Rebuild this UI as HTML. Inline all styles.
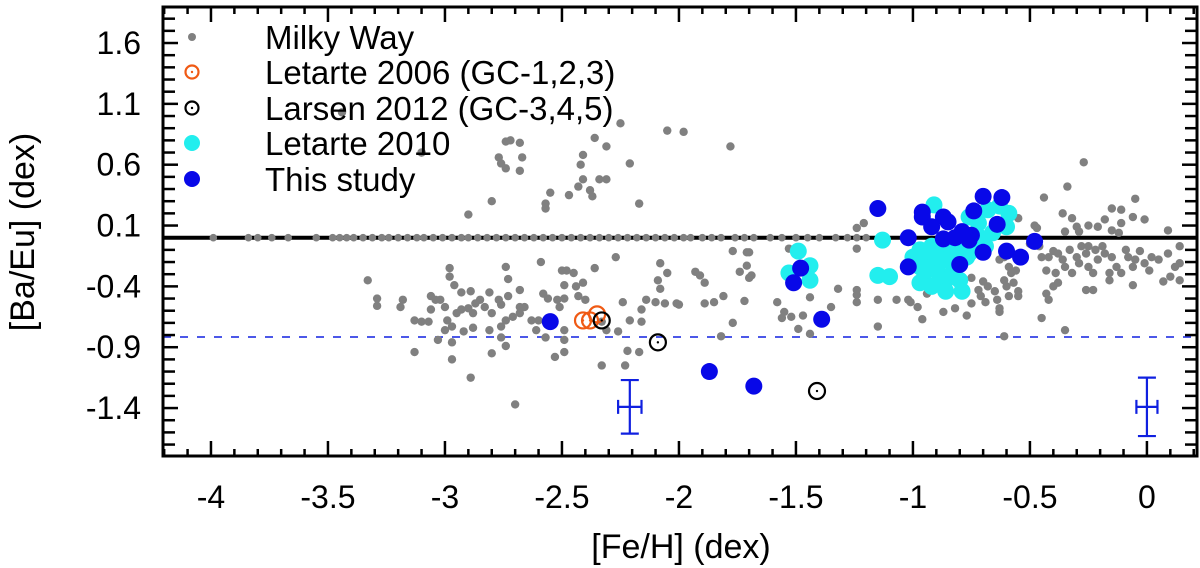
<!DOCTYPE html>
<html><head><meta charset="utf-8"><style>
body{margin:0;background:#fff}
svg{display:block;font-family:"Liberation Sans",Arial,sans-serif}
</style></head><body>
<svg id="chart" width="1200" height="568" viewBox="0 0 1200 568"></svg>
<script>
// ---- data ----
const xTicks=[-4,-3.5,-3,-2.5,-2,-1.5,-1,-0.5,0];
const xTickLabels=["-4","-3.5","-3","-2.5","-2","-1.5","-1","-0.5","0"];
const yTicks=[1.6,1.1,0.6,0.1,-0.4,-0.9,-1.4];
const yTickLabels=["1.6","1.1","0.6","0.1","-0.4","-0.9","-1.4"];
const solarLine=0.0;
const dashedLine=-0.816;
// Milky Way: [Fe/H], [Ba/Eu]
const mwFe=[-3.44,-3.10,-2.74,-2.72,-2.68,-2.77,-2.76,-2.74,-2.67,-2.68,-2.36,-2.31,-2.41,-2.42,-2.41,-2.34,-2.31,-2.43,-2.47,-2.38,-2.37,-2.55,-2.57,-2.57,-2.80,-2.90,-2.21,-2.17,-2.25,-2.05,-3.10,
-3.33,-3.29,-3.29,-3.18,-3.19,-3.13,-3.10,-3.07,-3.13,-3.03,-3.06,-3.04,-3.02,-3.00,-3.06,-2.98,-2.98,-2.96,-2.93,-2.89,-2.85,-2.87,-2.90,-2.95,-2.93,-2.88,-2.83,-2.81,-2.77,-2.76,-2.80,-2.99,-2.97,-3.00,-2.92,-2.88,-2.81,-2.76,-2.74,-2.71,-2.68,-2.66,-2.63,-2.97,-2.97,-2.89,-2.80,-2.74,-2.76,-2.70,-2.74,-2.73,-2.68,-2.73,-2.68,-2.59,-2.58,-2.56,-2.52,-2.49,-2.51,-2.60,-2.61,-2.57,-2.49,-2.49,-2.49,-2.53,-2.50,-2.48,-2.45,-2.49,-2.44,-2.41,-2.43,-2.40,-2.36,-2.33,-2.31,-2.26,-2.27,-2.24,-2.21,-2.22,-2.17,-2.16,-2.16,-2.14,-2.10,-2.09,-2.08,-2.08,-2.05,-2.06,-2.01,-2.33,-2.23,
-1.98,-1.78,-0.27,-0.34,-0.44,-0.05,-1.24,-1.21,-0.55,-0.48,-0.47,-0.36,-0.32,-0.30,-0.25,-0.21,-0.18,-0.15,-0.11,-0.11,-0.06,-0.01,0.09,-0.15,-0.12,-0.29,-0.35,
-2.0,-1.93,-1.91,-1.89,-1.89,-1.85,-1.81,-1.82,-1.77,-1.71,-1.70,-1.71,-1.74,-1.69,-1.70,-1.72,-1.77,-1.58,-1.55,-1.56,-1.52,-1.47,-1.44,-1.35,-1.32,-1.49,-1.44,-1.53,-1.24,-1.24,-1.24,-1.24,-1.15,-1.07,-1.02,-1.01,-0.98,-0.96,-0.94,-0.87,-0.82,-0.77,-1.15,
-0.75,-0.72,-0.71,-0.70,-0.69,-0.68,-0.65,-0.64,-0.63,-0.61,-0.60,-0.59,-0.58,-0.57,-0.55,-0.55,-0.63,-0.61,-0.59,-0.56,-0.75,-0.63,-0.61,
-0.50,-0.46,-0.45,-0.43,-0.42,-0.40,-0.39,-0.38,-0.36,-0.35,-0.33,-0.32,-0.30,-0.29,-0.28,-0.26,-0.25,-0.23,-0.22,-0.21,-0.19,-0.18,-0.16,-0.15,-0.13,-0.11,-0.09,-0.08,-0.06,-0.05,-0.03,-0.01,0.01,0.02,0.05,0.07,0.09,0.10,0.12,0.14,0.14,0.14,-0.43,-0.40,-0.38,-0.42,-0.26,-0.23,-0.16,-0.06,-0.45,-0.35,-0.25];
const mwBa=[1.03,0.70,0.79,0.80,0.78,0.66,0.61,0.57,0.66,0.55,0.82,0.75,0.68,0.60,0.48,0.48,0.48,0.42,0.35,0.39,0.34,0.37,0.28,0.24,0.30,0.19,0.61,0.28,0.94,0.88,0.70,
-0.35,-0.50,-0.56,-0.51,-0.57,-0.68,-0.69,-0.69,-0.94,-0.84,-0.48,-0.51,-0.51,-0.57,-0.59,-0.25,-0.32,-0.39,-0.45,-0.44,-0.51,-0.54,-0.58,-0.62,-0.59,-0.62,-0.57,-0.45,-0.51,-0.55,-0.62,-0.68,-0.73,-0.76,-0.77,-0.74,-0.76,-0.73,-0.68,-0.65,-0.62,-0.57,-0.68,-0.86,-1.00,-1.15,-0.95,-0.89,-0.82,-1.37,-0.24,-0.34,-0.43,-0.48,-0.57,-0.20,-0.46,-0.50,-0.51,-0.50,-0.57,-0.68,-0.76,-0.82,-0.76,-0.84,-0.94,-0.98,-0.27,-0.27,-0.29,-0.39,-0.40,-0.37,-0.48,-0.51,-0.25,-0.69,-0.76,-0.77,-0.16,-0.53,-0.68,-0.93,-0.94,-0.69,-0.59,-0.51,-0.53,-0.35,-0.21,-0.42,-0.29,-0.54,-0.54,-1.05,-1.05,
0.87,0.75,0.62,0.42,0.33,0.32,0.08,0.12,0.16,0.10,0.08,0.20,0.16,0.09,0.10,0.09,0.15,0.24,0.23,0.12,0.17,0.15,0.06,0.06,0.04,0.05,0.05,
-0.55,-0.28,-0.31,-0.37,-0.54,-0.53,-0.48,-0.81,-0.11,-0.12,-0.12,-0.23,-0.28,-0.31,-0.33,-0.52,-0.70,-0.53,-0.61,-0.66,-0.65,-0.64,-0.49,-0.57,-0.42,-0.75,-0.79,-0.09,-0.09,-0.43,-0.47,-0.53,-0.51,-0.51,-0.51,-0.53,-0.57,-0.67,-0.46,-0.61,-0.58,-0.64,-0.73,
-0.33,-0.43,-0.48,-0.36,-0.53,-0.40,-0.44,-0.51,-0.58,-0.35,-0.40,-0.48,-0.29,-0.37,-0.44,-0.48,-0.18,-0.16,-0.24,-0.27,-0.54,-0.61,-0.81,
-0.05,-0.07,-0.16,-0.27,-0.16,-0.11,-0.29,-0.13,-0.18,-0.24,-0.10,-0.29,-0.16,-0.21,-0.07,-0.13,-0.24,-0.29,-0.10,-0.18,-0.07,-0.13,-0.35,-0.16,-0.24,-0.29,-0.10,-0.16,-0.24,-0.18,-0.11,-0.21,-0.27,-0.16,-0.18,-0.36,-0.13,-0.32,-0.24,-0.21,-0.35,-0.07,-0.46,-0.40,-0.37,-0.51,-0.43,-0.43,-0.29,-0.39,-0.66,-0.76,-0.07];
// Milky Way stars at solar [Ba/Eu] (on the line)
const mwSolarFe=[-3.99,-3.84,-3.80,-3.74,-3.67,-3.55,-3.48,-3.45,-3.42,-3.39,-3.35,-3.31,-3.27,-3.24,-3.20,-3.16,-3.12,-3.09,-3.05,-3.01,-2.97,-2.93,-2.90,-2.86,-2.82,-2.78,-2.74,-2.70,-2.66,-2.62,-2.58,-2.54,-2.50,-2.46,-2.42,-2.38,-2.34,-2.30,-2.26,-2.22,-2.18,-2.14,-2.10,-2.06,-2.02,-1.98,-1.95,-1.90,-1.86,-1.82,-1.76,-1.72,-1.68,-1.61,-1.56,-1.50,-1.45,-1.40,-1.33,-1.28,-1.24,-1.20];
// Letarte 2006 (orange open)
const l06Fe=[-2.41,-2.38,-2.35];
const l06Ba=[-0.68,-0.68,-0.63];
// Larsen 2012 (black open)
const l12Fe=[-2.33,-2.09,-1.41];
const l12Ba=[-0.68,-0.86,-1.26];
// Letarte 2010 (cyan)
const l10Fe=[-1.49,-1.44,-1.53,-1.44,-1.13,-1.15,-1.10,-0.91,-0.97,-0.95,-0.92,-0.89,-0.86,-0.83,-0.80,-0.77,-0.75,-0.72,-0.97,-0.95,-0.92,-0.89,-0.86,-0.83,-0.80,-0.97,-0.92,-0.86,-0.79,-0.76,-0.72,-0.68,-0.63,-0.59,-0.66,-0.69,-0.76,-0.60,-1.0];
const l10Ba=[-0.11,-0.23,-0.29,-0.35,-0.02,-0.31,-0.32,0.27,-0.10,-0.16,-0.07,-0.13,-0.18,-0.10,-0.07,-0.16,-0.05,0.01,-0.24,-0.29,-0.24,-0.29,-0.35,-0.29,-0.35,-0.37,-0.40,-0.44,-0.44,0.17,0.12,0.23,0.26,0.20,0.04,-0.07,-0.13,0.09,-0.16];
// This study (blue)
const tsFe=[-2.55,-1.15,-0.96,-0.96,-0.87,-0.92,-0.85,-0.79,-0.75,-0.87,-0.82,-0.76,-1.02,-1.02,-0.80,-0.70,-0.62,-0.74,-0.64,-0.70,-0.60,-0.54,-0.48,-1.48,-1.51,-1.39,-1.87,-1.68];
const tsBa=[-0.69,0.24,0.21,0.17,0.17,0.09,0.13,0.05,0.02,-0.01,0.0,-0.02,0.0,-0.24,-0.22,0.34,0.33,0.22,0.11,-0.12,-0.11,-0.16,-0.03,-0.25,-0.37,-0.67,-1.10,-1.22];
// Representative error bars
const errFe=[-2.21,0.0];
const errBa=[-1.39,-1.39];
const errX=[0.05,0.045];
const errY=[0.22,0.24];

// ---- axes ----
const X0=163,X1=1197,Y0=7,Y1=456;
const xMin=-4.205,xMax=0.214,yMin=-1.794,yMax=1.896;
const sx=v=>X0+(v-xMin)/(xMax-xMin)*(X1-X0);
const sy=v=>Y1-(v-yMin)/(yMax-yMin)*(Y1-Y0);
const svg=document.getElementById('chart');
const NS='http://www.w3.org/2000/svg';
function mk(tag,attrs,parent){const e=document.createElementNS(NS,tag);for(const k in attrs)e.setAttribute(k,attrs[k]);(parent||svg).appendChild(e);return e;}

// reference lines
let g=mk('g',{});


let ln=mk('line',{x1:X0,x2:X1,y1:sy(solarLine),y2:sy(solarLine),stroke:'#000','stroke-width':4},g);


ln=mk('line',{x1:X0,x2:X1,y1:sy(dashedLine),y2:sy(dashedLine),stroke:'#1020e0','stroke-width':1.6,'stroke-dasharray':'8,9'},g);



// Milky Way
g=mk('g',{fill:'#808080'});


mwFe.forEach((f,i)=>{const c=mk('circle',{cx:sx(f),cy:sy(mwBa[i]),r:4.2},g);

});
mwSolarFe.forEach(f=>{const c=mk('circle',{cx:sx(f),cy:sy(solarLine),r:3.8},g);

});

// Letarte 2010
g=mk('g',{fill:'#22eeee'});


l10Fe.forEach((f,i)=>{const c=mk('circle',{cx:sx(f),cy:sy(l10Ba[i]),r:8.5},g);

});
// This study
g=mk('g',{fill:'#0808e8'});


tsFe.forEach((f,i)=>{const c=mk('circle',{cx:sx(f),cy:sy(tsBa[i]),r:8.5},g);

});
// open circles
function openPts(fe,ba,col,name){const gg=mk('g',{});


fe.forEach((f,i)=>{mk('circle',{cx:sx(f),cy:sy(ba[i]),r:8,fill:'none',stroke:col,'stroke-width':2.2},gg);
mk('circle',{cx:sx(f),cy:sy(ba[i]),r:1.2,fill:col},gg);});}
openPts(l06Fe,l06Ba,'#f05a14','letarte-2006');
openPts(l12Fe,l12Ba,'#000','larsen-2012');

// error bars
g=mk('g',{stroke:'#1020e0','stroke-width':2.2,fill:'none'});


errFe.forEach((f,i)=>{const x=sx(f),y=sy(errBa[i]);const yt=sy(errBa[i]+errY[i]),yb=sy(errBa[i]-errY[i]);const xl=sx(f-errX[i]),xr=sx(f+errX[i]);
mk('path',{d:`M${x},${yt}V${yb}M${x-9},${yt}H${x+9}M${x-9},${yb}H${x+9}M${xl},${y}H${xr}M${xl},${y-7}V${y+7}M${xr},${y-7}V${y+7}`},g);});

// frame and ticks
g=mk('g',{stroke:'#000','stroke-width':2.5});


mk('rect',{x:X0,y:Y0,width:X1-X0,height:Y1-Y0,fill:'none','stroke-width':3},g);
for(let k=-42;k<=2;k++){const v=k/10;const major=k%5===0;const x=sx(v);const L=major?15:7;
mk('line',{x1:x,x2:x,y1:Y1,y2:Y1-L},g);mk('line',{x1:x,x2:x,y1:Y0,y2:Y0+L},g);}
for(let k=-17;k<=18;k++){const v=k/10;const major=((k-1)%5+5)%5===0;const y=sy(v);const L=major?15:12;
mk('line',{x1:X0,x2:X0+L,y1:y,y2:y},g);mk('line',{x1:X1,x2:X1-L,y1:y,y2:y},g);}
xTicks.forEach((v,i)=>{const t=mk('text',{x:sx(v),y:508,'text-anchor':'middle','font-size':32},svg);t.textContent=xTickLabels[i];

});
yTicks.forEach((v,i)=>{const t=mk('text',{x:141,y:sy(v)+11,'text-anchor':'end','font-size':32},svg);t.textContent=yTickLabels[i];

});
let t=mk('text',{x:681,y:558,'text-anchor':'middle','font-size':34});t.textContent='[Fe/H] (dex)';


t=mk('text',{x:0,y:0,'text-anchor':'middle','font-size':34,transform:'translate(34,232) rotate(-90)'});t.textContent='[Ba/Eu] (dex)';



// legend
const legLabels=['Milky Way','Letarte 2006 (GC-1,2,3)','Larsen 2012 (GC-3,4,5)','Letarte 2010','This study'];
const legY=[37,72,108,143,179];
g=mk('g',{});


mk('circle',{cx:192,cy:legY[0],r:4,fill:'#808080'},g);
mk('circle',{cx:192,cy:legY[1],r:6.5,fill:'none',stroke:'#f05a14','stroke-width':2.2},g);mk('circle',{cx:192,cy:legY[1],r:1.2,fill:'#f05a14'},g);
mk('circle',{cx:192,cy:legY[2],r:6.5,fill:'none',stroke:'#000','stroke-width':2.2},g);mk('circle',{cx:192,cy:legY[2],r:1.2,fill:'#000'},g);
mk('circle',{cx:192,cy:legY[3],r:8,fill:'#22eeee'},g);
mk('circle',{cx:192,cy:legY[4],r:8,fill:'#0808e8'},g);
legLabels.forEach((s,i)=>{const e=mk('text',{x:265,y:legY[i]+12,'font-size':33},g);e.textContent=s;

});
</script>
</body></html>
